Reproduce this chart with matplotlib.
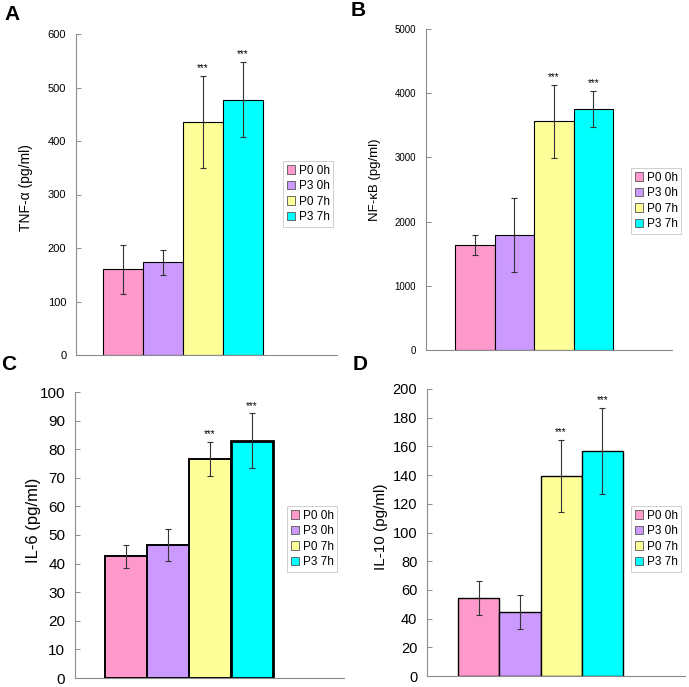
import matplotlib
matplotlib.use("Agg")
import matplotlib.pyplot as plt
from matplotlib import font_manager
from matplotlib.patches import Patch

names = {f.name for f in font_manager.fontManager.ttflist}
REG = "Liberation Sans" if "Liberation Sans" in names else "DejaVu Sans"
NARROW = "Liberation Sans Narrow" if "Liberation Sans Narrow" in names else REG
plt.rcParams["font.family"] = [REG, "DejaVu Sans"]

groups = ["P0 0h", "P3 0h", "P0 7h", "P3 7h"]
colors = ["#FF99CC", "#CC99FF", "#FFFF99", "#00FFFF"]

tnf_mean = [160, 173, 435, 477]
tnf_err = [46, 23, 86, 70]
nfkb_mean = [1640, 1790, 3560, 3750]
nfkb_err = [155, 580, 570, 280]
il6_mean = [42.5, 46.5, 76.5, 83]
il6_err = [4, 5.6, 6, 9.5]
il10_mean = [54.5, 44.5, 139.5, 157]
il10_err = [12, 11.6, 25, 30]
stars = ["", "", "***", "***"]

W, H = 689, 687
fig = plt.figure(figsize=(W / 100, H / 100), dpi=100)


def add_ax(l, r, t, b):
    return fig.add_axes([l / W, (H - b) / H, (r - l) / W, (b - t) / H])


panels = [
    dict(letter="A", pos=(76, 337, 34, 355), bars=(103, 263), mean=tnf_mean, err=tnf_err,
         ylim=600, step=100, ylabel="TNF-α (pg/ml)", lab=(33, 188), leg=(283, 161),
         tfs=8, lfs=10, font=REG, lw=0.8, letterxy=(12, 15)),
    dict(letter="B", pos=(426, 672, 29, 350), bars=(455, 613), mean=nfkb_mean, err=nfkb_err,
         ylim=5000, step=1000, ylabel="NF-κB (pg/ml)", lab=(381, 180), leg=(631, 168),
         tfs=7.0, lfs=9.5, font=REG, lw=0.8, letterxy=(358, 11)),
    dict(letter="C", pos=(75, 344, 392, 678), bars=(105, 273), mean=il6_mean, err=il6_err,
         ylim=100, step=10, ylabel="IL-6 (pg/ml)", lab=(41, 520), leg=(287, 506),
         tfs=11, lfs=12, font=NARROW, lw=1.4, letterxy=(9, 365)),
    dict(letter="D", pos=(427, 685, 389, 676), bars=(458, 623), mean=il10_mean, err=il10_err,
         ylim=200, step=20, ylabel="IL-10 (pg/ml)", lab=(388, 527), leg=(631, 506),
         tfs=10.5, lfs=11, font=REG, lw=1.0, letterxy=(360, 364)),
]

for p in panels:
    l, r, t, b = p["pos"]
    ax = add_ax(l, r, t, b)
    bx0, bx1 = p["bars"]
    pxu = (bx1 - bx0) / 4.0
    x = list(range(4))
    lws = [p["lw"]] * 4
    if p["letter"] == "C":
        lws[3] = 2.0
    ax.bar(x, p["mean"], width=1.0, color=colors, edgecolor="black", linewidth=lws,
           yerr=p["err"], capsize=2.2,
           error_kw=dict(ecolor="#333333", elinewidth=0.8, capthick=0.8), zorder=2)
    ax.set_xlim(-0.5 - (bx0 - l) / pxu, 3.5 + (r - bx1) / pxu)
    ax.set_ylim(0, p["ylim"])
    ax.set_yticks([p["step"] * i for i in range(int(p["ylim"] / p["step"]) + 1)])
    ax.set_xticks([])
    for s in ["top", "right"]:
        ax.spines[s].set_visible(False)
    for s in ["left", "bottom"]:
        ax.spines[s].set_color("#8c8c8c")
        ax.spines[s].set_linewidth(0.8)
    ax.tick_params(axis="y", direction="in", length=3.5, width=0.7, color="#8c8c8c",
                   pad=7, labelsize=p["tfs"])
    for tl in ax.get_yticklabels():
        tl.set_fontfamily([p["font"], "DejaVu Sans"])
    ax.set_ylabel(p["ylabel"], fontsize=p["lfs"], family=[p["font"], "DejaVu Sans"])
    lx, ly = p["lab"]
    ax.yaxis.set_label_coords((lx - l) / (r - l), (b - ly) / (b - t))
    for i in range(4):
        if stars[i]:
            ax.annotate(stars[i], (x[i], p["mean"][i] + p["err"][i]), xytext=(0, 2),
                        textcoords="offset points", ha="center", va="bottom", fontsize=7)
    handles = [Patch(facecolor=c, edgecolor="#555555", linewidth=0.6) for c in colors]
    lgx, lgy = p["leg"]
    leg = fig.legend(handles, groups, loc="upper left", bbox_to_anchor=(lgx / W, 1 - lgy / H),
                     frameon=True, fancybox=False, edgecolor="#bbbbbb", fontsize=8.5,
                     handlelength=0.75, handleheight=0.75, handletextpad=0.3,
                     labelspacing=0.3, borderpad=0.3, borderaxespad=0)
    leg.get_frame().set_linewidth(0.6)
    fx, fy = p["letterxy"]
    fig.text(fx / W, 1 - fy / H, p["letter"], fontsize=15, fontweight="bold",
             ha="center", va="center", family=["Liberation Sans", "DejaVu Sans"])

fig.savefig("out.png", dpi=100)
